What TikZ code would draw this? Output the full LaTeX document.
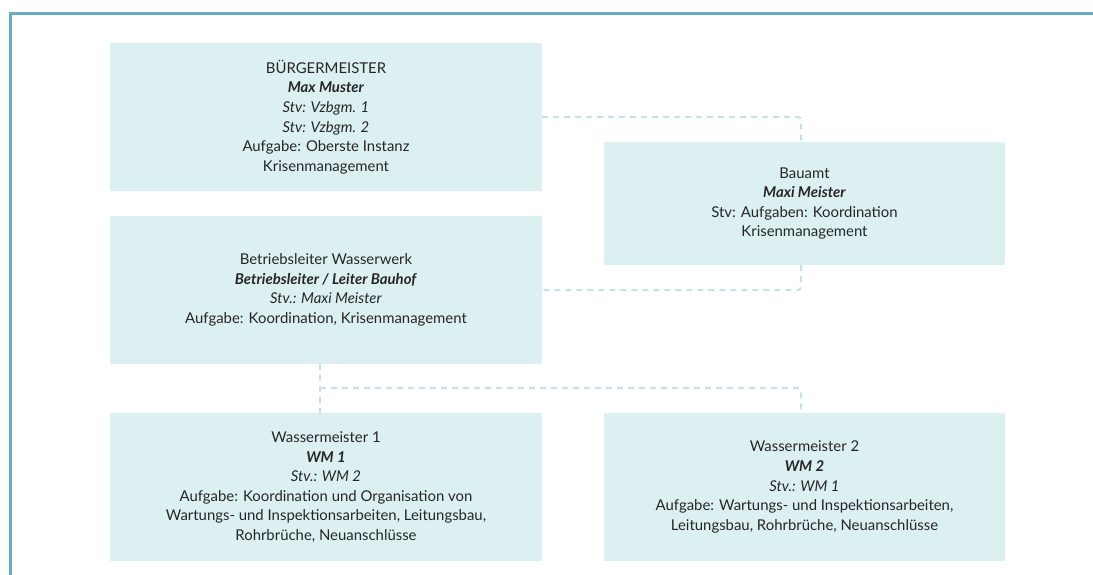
\documentclass[tikz,border=0pt]{standalone}
\usepackage{fontspec}
\usetikzlibrary{backgrounds}
\setmainfont{Lato}
\definecolor{frame}{HTML}{6AAEBB}
\definecolor{boxfill}{HTML}{DCF0F2}
\definecolor{link}{HTML}{C2E3E8}
\definecolor{ink}{HTML}{262626}
\begin{document}
\begin{tikzpicture}[x=1pt,y=-1pt,
  orgbox/.style={fill=boxfill, draw=none, inner sep=0pt, align=center,
    text=ink, font=\fontsize{14.9}{19.6}\selectfont},
  widebox/.style={orgbox, minimum width=432pt, minimum height=148pt},
  narrowbox/.style={orgbox, minimum width=401pt},
  link/.style={draw=link, line width=2pt, dash pattern=on 6pt off 5pt, rounded corners=3pt}]
  \useasboundingbox (0,0) rectangle (1093,575);
  % outer frame: top and left edges only
  \draw[frame, line width=3pt] (1093,13.5) -- (10.5,13.5) -- (10.5,575);

  % organisation units
  \node[widebox] (bgm) at (326,117) {B\"URGERMEISTER\\
    \textbf{\textit{Max Muster}}\\
    \textit{Stv: Vzbgm. 1}\\
    \textit{Stv: Vzbgm. 2}\\
    Aufgabe: Oberste Instanz\\
    Krisenmanagement};
  \node[narrowbox, minimum height=123pt] (bau) at (804.5,203.5) {Bauamt\\
    \textbf{\textit{Maxi Meister}}\\
    Stv: Aufgaben: Koordination\\
    Krisenmanagement};
  \node[widebox] (bl) at (326,290) {Betriebsleiter Wasserwerk\\
    \textbf{\textit{Betriebsleiter / Leiter Bauhof}}\\
    \textit{Stv.: Maxi Meister}\\
    Aufgabe: Koordination, Krisenmanagement};
  \node[widebox] (wm1) at (326,487) {Wassermeister 1\\
    \textbf{\textit{WM 1}}\\
    \textit{Stv.: WM 2}\\
    Aufgabe: Koordination und Organisation von\\
    Wartungs- und Inspektionsarbeiten, Leitungsbau,\\
    Rohrbr\"uche, Neuanschl\"usse};
  \node[narrowbox, minimum height=148pt] (wm2) at (804.5,487) {Wassermeister 2\\
    \textbf{\textit{WM 2}}\\
    \textit{Stv.: WM 1}\\
    Aufgabe: Wartungs- und Inspektionsarbeiten,\\
    Leitungsbau, Rohrbr\"uche, Neuanschl\"usse};

  % guide coordinates for the dashed connectors
  \coordinate (vx) at (801,0);
  \coordinate (vl) at (320,0);
  \coordinate (hy) at (0,388);

  % dashed connectors behind the boxes
  \begin{scope}[on background layer]
    \draw[link] (bgm.east) -- (bgm.east -| vx) -- (bau.north -| vx);
    \draw[link] (bau.south -| vx) -- (bl.east -| vx) -- (bl.east);
    \draw[link] (bl.south -| vl) -- (wm1.north -| vl);
    \draw[link] (vl |- hy) -- (vx |- hy) -- (wm2.north -| vx);
  \end{scope}
\end{tikzpicture}
\end{document}
